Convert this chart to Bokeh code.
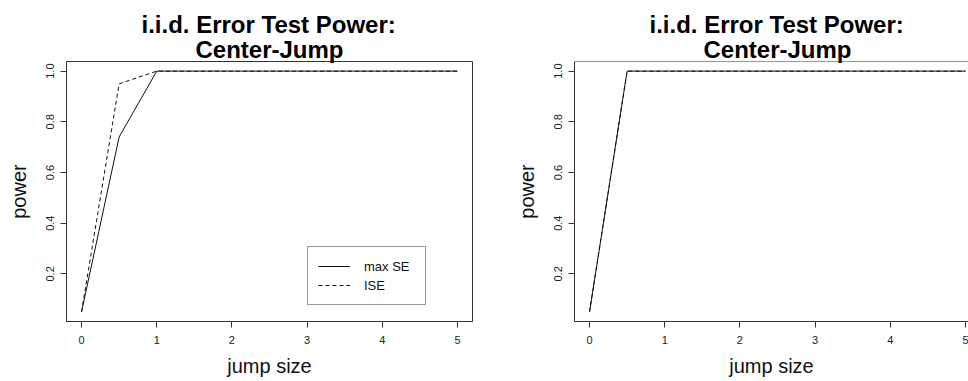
from bokeh.plotting import figure
from bokeh.models import Range1d, FixedTicker, Legend, LegendItem, Span, Title
from bokeh.layouts import row
from bokeh.embed import file_html
from bokeh.resources import INLINE

# ---- data ----
jump_size = [0, 0.5, 1, 1.5, 2, 2.5, 3, 3.5, 4, 4.5, 5]
left_max_se = [0.05, 0.74, 1.0, 1.0, 1.0, 1.0, 1.0, 1.0, 1.0, 1.0, 1.0]
left_ise = [0.05, 0.95, 1.0, 1.0, 1.0, 1.0, 1.0, 1.0, 1.0, 1.0, 1.0]
right_max_se = [0.05, 1.0, 1.0, 1.0, 1.0, 1.0, 1.0, 1.0, 1.0, 1.0, 1.0]
right_ise = [0.05, 1.0, 1.0, 1.0, 1.0, 1.0, 1.0, 1.0, 1.0, 1.0, 1.0]
x_ticks = [0, 1, 2, 3, 4, 5]
y_ticks = [0.2, 0.4, 0.6, 0.8, 1.0]
y_tick_labels = {0.2: "0.2", 0.4: "0.4", 0.6: "0.6", 0.8: "0.8", 1.0: "1.0"}
title_lines = ["i.i.d. Error Test Power:", "Center-Jump"]
x_label = "jump size"
y_label = "power"
legend_labels = ["max SE", "ISE"]

FONT = "Liberation Sans"
BOX = "#333333"
LINE = "#111111"
H = 381
Y_LO, Y_HI = 0.012, 1.038


def make_panel(width, border_left, border_right, x_end, s1, s2, with_legend, full_box):
    p = figure(width=width, height=H, title=None,
               x_range=Range1d(-0.2, x_end), y_range=Range1d(Y_LO, Y_HI),
               output_backend="svg", toolbar_location=None,
               min_border_left=border_left, min_border_right=border_right,
               min_border_top=61, min_border_bottom=60)
    xax = p.below[0]
    yax = p.left[0]
    p.xgrid.visible = False
    p.ygrid.visible = False
    p.background_fill_color = "white"
    p.border_fill_color = "white"
    if full_box:
        p.outline_line_color = BOX
        p.outline_line_width = 1
    else:
        # box cut off at the window edge: top border only, no right border
        p.outline_line_color = None
        p.add_layout(Span(location=Y_HI, dimension="width",
                          line_color=BOX, line_width=1))

    for ax in (xax, yax):
        ax.axis_line_color = BOX
        ax.major_tick_line_color = BOX
        ax.minor_tick_line_color = None
        ax.major_tick_out = 6
        ax.major_tick_in = 0
        ax.major_label_text_font = FONT
        ax.major_label_text_font_size = "11px"
        ax.major_label_text_color = "#222222"
        ax.axis_label_text_font = FONT
        ax.axis_label_text_font_size = "20px"
        ax.axis_label_text_font_style = "normal"
        ax.axis_label_text_color = "#111111"

    xax.ticker = FixedTicker(ticks=x_ticks)
    xax.axis_label = x_label
    xax.major_label_standoff = 8
    xax.axis_label_standoff = 8

    yax.ticker = FixedTicker(ticks=y_ticks)
    yax.major_label_overrides = y_tick_labels
    yax.major_label_orientation = "parallel"
    yax.axis_label = y_label
    yax.major_label_standoff = 6
    yax.axis_label_standoff = 14

    r2 = p.line(jump_size, s2, line_color=LINE, line_width=1, line_dash="4 3")
    r1 = p.line(jump_size, s1, line_color=LINE, line_width=1)

    # title: second line closest to the frame, then the first line
    t2 = Title(text=title_lines[1], align="left", offset=129, standoff=-3.6,
               text_baseline="alphabetic", text_font=FONT, text_font_size="24px",
               text_font_style="bold", text_color="#000000")
    t1 = Title(text=title_lines[0], align="left", offset=75, standoff=-2,
               text_baseline="alphabetic", text_font=FONT, text_font_size="24px",
               text_font_style="bold", text_color="#000000")
    p.add_layout(t2, "above")
    p.add_layout(t1, "above")

    if with_legend:
        leg = Legend(items=[LegendItem(label=legend_labels[0], renderers=[r1]),
                            LegendItem(label=legend_labels[1], renderers=[r2])],
                     location=(241, 16))
        leg.border_line_color = BOX
        leg.border_line_width = 1
        leg.background_fill_color = "white"
        leg.background_fill_alpha = 1
        leg.label_text_font = FONT
        leg.label_text_font_size = "13px"
        leg.label_text_color = "#111111"
        leg.glyph_width = 32
        leg.glyph_height = 18
        leg.label_height = 18
        leg.label_width = 51
        leg.spacing = 1
        leg.padding = 10
        leg.label_standoff = 14
        leg.margin = 0
        p.add_layout(leg)
    return p


left = make_panel(510, 66, 38, 5.2, left_max_se, left_ise, True, True)
right = make_panel(458, 64, 0, 5.04, right_max_se, right_ise, False, False)

layout = row(left, right)
open("out.html", "w").write(file_html(layout, INLINE))
